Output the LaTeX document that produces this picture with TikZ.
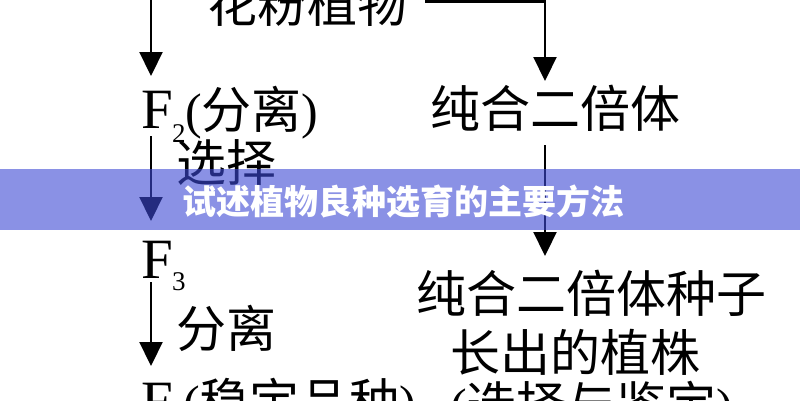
\documentclass[tikz,border=0pt]{standalone}
\usepackage{fontspec}
\setmainfont{Liberation Serif}
\newfontfamily\cjk{Noto Sans CJK SC}
\usetikzlibrary{arrows.meta}

\begin{document}
\begin{tikzpicture}[%
  x=1pt, y=-1pt,
  >={Triangle[width=23pt,length=24pt]},
  flow/.style={line width=2.2pt, black},
  cjktext/.style={font=\cjk\fontsize{50}{50}\selectfont, inner sep=0pt, anchor=base west},
  fvar/.style={font=\rmfamily\fontsize{57}{57}\selectfont, inner sep=0pt, anchor=base west},
  fsub/.style={font=\rmfamily\fontsize{27}{27}\selectfont, inner sep=0pt, anchor=base west},
  banner/.style={fill={rgb,255:red,60;green,73;blue,213}, fill opacity=0.6, draw=none},
  bannertext/.style={font=\cjk\bfseries\fontsize{34}{34}\selectfont, text=white, inner sep=0pt, anchor=west},
]

  \useasboundingbox (0,0) rectangle (800,400);
  \fill[white] (0,0) rectangle (800,400);
  \clip (0,0) rectangle (800,400);

  % left column
  \node[cjktext] (hf) at (207,22) {花粉植物};
  \node[fvar] (f2) at (141,128) {F};
  \node[fsub] (f2s) at (172,142) {2};
  \node[cjktext] (f2t) at (185,128) {{\rmfamily(}分离{\rmfamily)}};
  \node[cjktext] (xz) at (176,181) {选择};
  \node[fvar] (f3) at (141,278) {F};
  \node[fsub] (f3s) at (172,290) {3};
  \node[cjktext] (fl) at (176,347) {分离};
  \node[fvar] (f4) at (141,420) {F};
  \node[fsub] (f4s) at (172,432) {4};
  \node[cjktext] (f4t) at (183,420) {{\rmfamily(}稳定品种{\rmfamily)}};

  % right column
  \node[cjktext] (ch) at (430,127) {纯合二倍体};
  \node[cjktext] (zz) at (416,312) {纯合二倍体种子};
  \node[cjktext] (zs) at (450,371) {长出的植株};
  \node[cjktext] (jd) at (450,423) {{\rmfamily(}选择与鉴定{\rmfamily)}};

  \coordinate (l0) at (151,-5);
  \coordinate (l1) at (151,76);
  \coordinate (l2) at (151,136);
  \coordinate (l3) at (151,221);
  \coordinate (l4) at (151,282);
  \coordinate (l5) at (151,366);
  \coordinate (r0) at (425,1.5);
  \coordinate (r1) at (545,81);
  \coordinate (r2) at (545,145);
  \coordinate (r3) at (545,256);

  \draw[flow,->] (l0) -- (l1);
  \draw[flow,->] (l2) -- (l3);
  \draw[flow,->] (l4) -- (l5);
  \draw[flow,->] (r0) -| (r1);
  \draw[flow,->] (r2) -- (r3);

  % title band
  \path[banner] (0,169) rectangle (800,230);
  \node[bannertext] (title) at (182,202) {试述植物良种选育的主要方法};

\end{tikzpicture}
\end{document}
